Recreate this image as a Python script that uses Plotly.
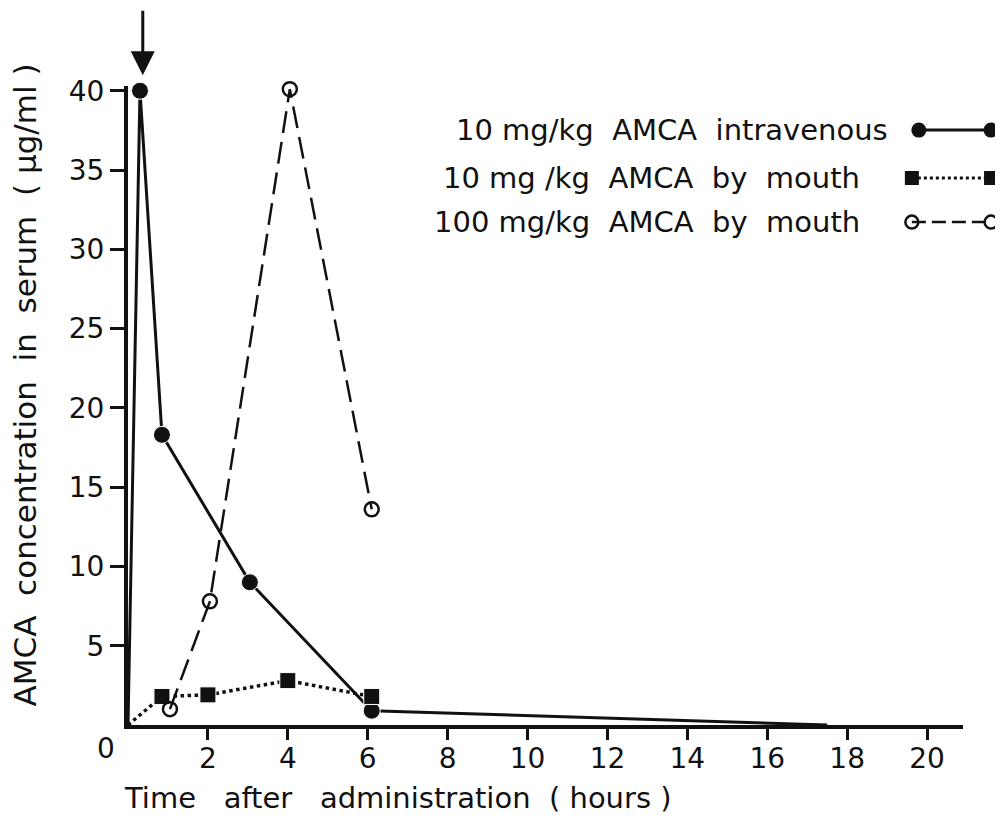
import plotly.graph_objects as go

# ---- data ----
iv_time = [0, 0.3, 0.85, 3.05, 6.1, 17.5]
iv_conc = [0, 40.0, 18.3, 9.0, 0.9, 0]
iv_marker = [0, 17, 17, 17, 17, 0]

oral10_time = [0, 0.85, 2.0, 4.0, 6.1]
oral10_conc = [0, 1.8, 1.9, 2.8, 1.8]
oral10_marker = [0, 16, 16, 16, 16]

oral100_time = [1.05, 2.05, 4.05, 6.1]
oral100_conc = [1.0, 7.8, 40.1, 13.6]

x_ticks = [2, 4, 6, 8, 10, 12, 14, 16, 18, 20]
y_ticks = [5, 10, 15, 20, 25, 30, 35, 40]

legend_labels = ["10 mg/kg  AMCA  intravenous",
                 "10 mg /kg  AMCA  by  mouth",
                 "100 mg/kg  AMCA  by  mouth"]

FONT = "DejaVu Sans"
BLACK = "#111111"

fig = go.Figure()

fig.add_trace(go.Scatter(
    x=iv_time, y=iv_conc, mode="lines+markers",
    line=dict(color=BLACK, width=3),
    marker=dict(symbol="circle", size=iv_marker, color=BLACK, opacity=1),
    showlegend=False, cliponaxis=False))

fig.add_trace(go.Scatter(
    x=oral10_time, y=oral10_conc, mode="lines+markers",
    line=dict(color=BLACK, width=3.5, dash="dot"),
    marker=dict(symbol="square", size=oral10_marker, color=BLACK, opacity=1),
    showlegend=False, cliponaxis=False))

fig.add_trace(go.Scatter(
    x=oral100_time, y=oral100_conc, mode="lines+markers",
    line=dict(color=BLACK, width=2.5, dash="22px,9px"),
    marker=dict(symbol="circle-open", size=14, color=BLACK, opacity=1,
                line=dict(width=2.5, color=BLACK)),
    showlegend=False, cliponaxis=False))

# ---- legend keys on an auxiliary axis (text left, symbol right) ----
key_rows = [0.931, 0.856, 0.787]
key_styles = [
    dict(line=dict(color=BLACK, width=3), marker=dict(symbol="circle", size=15, color=BLACK)),
    dict(line=dict(color=BLACK, width=3, dash="dot"), marker=dict(symbol="square", size=14, color=BLACK)),
    dict(line=dict(color=BLACK, width=2.5, dash="14px,6px"),
         marker=dict(symbol="circle-open", size=13, color=BLACK, line=dict(width=2.5, color=BLACK))),
]
key_x0 = [0.09, 0.01, 0.01]
for row, st, x0 in zip(key_rows, key_styles, key_x0):
    fig.add_trace(go.Scatter(x=[x0, 0.92], y=[row, row], mode="lines+markers",
                             xaxis="x2", yaxis="y2", showlegend=False,
                             cliponaxis=False, **st))

label_right = [0.876, 0.844, 0.844]
for row, lab, xr in zip(key_rows, legend_labels, label_right):
    fig.add_annotation(x=xr, y=row, xref="paper", yref="paper", text=lab,
                       showarrow=False, xanchor="right", yanchor="middle",
                       font=dict(family=FONT, size=29, color=BLACK))

# arrow marking the intravenous dose
fig.add_annotation(x=0.37, y=1.017, xref="x", yref="paper", text="",
                   showarrow=True, ax=0, ay=-66, arrowhead=2, arrowsize=1.6,
                   arrowwidth=3, arrowcolor=BLACK)

# "0" label at origin
fig.add_annotation(x=0, y=-0.036, xref="x", yref="paper", text="0",
                   showarrow=False, xshift=-22, yanchor="middle",
                   font=dict(family=FONT, size=28, color=BLACK))

# axis titles
fig.add_annotation(x=-0.118, y=0.532, xref="paper", yref="paper",
                   text="AMCA  concentration  in  serum  ( μg/ml )", textangle=-90,
                   showarrow=False, xanchor="center", yanchor="middle",
                   font=dict(family=FONT, size=31, color=BLACK))
fig.add_annotation(x=-0.007, y=-0.115, xref="paper", yref="paper",
                   text="Time   after   administration  ( hours )",
                   showarrow=False, xanchor="left", yanchor="middle",
                   font=dict(family=FONT, size=29, color=BLACK))

fig.update_layout(
    width=995, height=808,
    margin=dict(l=120, r=5, t=78, b=91),
    paper_bgcolor="white", plot_bgcolor="white",
    font=dict(family=FONT, size=28, color=BLACK),
    xaxis=dict(domain=[0, 0.9598], range=[0, 20.9], tickvals=x_ticks,
               ticks="outside", ticklen=11, tickwidth=3, tickcolor=BLACK,
               ticklabelstandoff=-6,
               showline=True, linewidth=4, linecolor=BLACK,
               showgrid=False, zeroline=False,
               tickfont=dict(family=FONT, size=28, color=BLACK)),
    yaxis=dict(range=[0, 40.3], tickvals=y_ticks,
               ticks="outside", ticklen=14, tickwidth=3, tickcolor=BLACK,
               showline=True, linewidth=4, linecolor=BLACK,
               showgrid=False, zeroline=False,
               tickfont=dict(family=FONT, size=28, color=BLACK)),
    xaxis2=dict(domain=[0.9, 1.0], range=[0, 1], visible=False, anchor="y2"),
    yaxis2=dict(domain=[0, 1], range=[0, 1], visible=False, anchor="x2"),
)

fig.write_html("out.html")
